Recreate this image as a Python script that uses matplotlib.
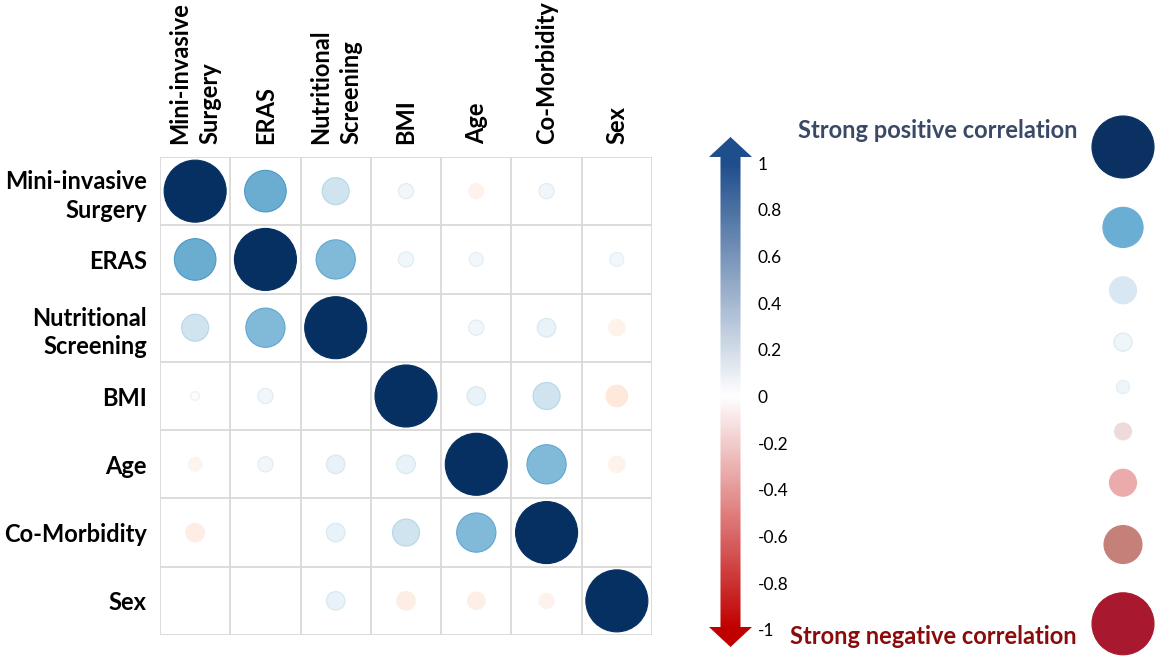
import matplotlib
matplotlib.use("Agg")
import matplotlib.pyplot as plt
import numpy as np
from matplotlib.colors import LinearSegmentedColormap
from matplotlib.patches import Polygon

plt.rcParams['font.family'] = ['Lato', 'DejaVu Sans']

# ==========
labels = ['Mini-invasive\nSurgery', 'ERAS', 'Nutritional\nScreening', 'BMI',
          'Age', 'Co-Morbidity', 'Sex']
# korelacni matice (radky = popisky vlevo)
corr = np.array([
    [1.00, 0.45, 0.19, 0.06, -0.06, 0.06, 0.00],
    [0.45, 1.00, 0.40, 0.06, 0.05, 0.00, 0.05],
    [0.19, 0.40, 1.00, 0.00, 0.06, 0.09, -0.07],
    [0.02, 0.06, 0.00, 1.00, 0.09, 0.19, -0.12],
    [-0.05, 0.06, 0.09, 0.09, 1.00, 0.40, -0.07],
    [-0.09, 0.00, 0.09, 0.19, 0.40, 1.00, 0.00],
    [0.00, 0.00, 0.09, -0.09, -0.08, -0.06, 1.00],
])
bar_ticks = [1, 0.8, 0.6, 0.4, 0.2, 0, -0.2, -0.4, -0.6, -0.8, -1]
bar_labels = ['1', '0.8', '0.6', '0.4', '0.2', '0', '-0.2', '-0.4', '-0.6', '-0.8', '-1']
legend_r = [1, 0.42, 0.19, 0.085, 0.045, -0.075, -0.19, -0.375, -1]
legend_colors = ['#0A3162', '#6BAED3', '#D8E7F1', '#EEF6FA', '#EEF6FA',
                 '#EFDADA', '#EBABAB', '#C6807A', '#A8182E']
# ==========

W, H = 1170, 659
def px_box(x0, y0, x1, y1):
    return [x0 / W, 1 - y1 / H, (x1 - x0) / W, (y1 - y0) / H]

cmap = LinearSegmentedColormap.from_list('corr', [
    '#67001F', '#B2182B', '#D6604D', '#F4A582', '#FDDBC7', '#FFFFFF',
    '#D1E5F0', '#92C5DE', '#4393C3', '#2166AC', '#053061'])
arrow_cmap = LinearSegmentedColormap.from_list('arrow', ['#C00000', '#FFFFFF', '#1F4E8C'])

def barva(r):
    return cmap((np.clip(r * 1.1, -1, 1) + 1) / 2)

def okraj(r):
    # kladne kruhy maji o neco tmavsi obrys, zaporne bez obrysu
    return barva(r + 0.07) if r > 0 else barva(r)

d_max = 62 * 0.72  # prumer kruhu pro |r| = 1 [pt]

fig = plt.figure(figsize=(W / 100, H / 100), dpi=100)

# --- matice ---
ax = fig.add_axes(px_box(160, 157, 652, 635))
n = len(labels)
ax.set_xlim(-0.5, n - 0.5)
ax.set_ylim(n - 0.5, -0.5)
for k in range(n + 1):
    ax.axvline(k - 0.5, color='#D9D9D9', lw=1.3, zorder=1)
    ax.axhline(k - 0.5, color='#D9D9D9', lw=1.3, zorder=1)
for s in ax.spines.values():
    s.set_visible(False)

yy, xx = np.nonzero(corr)
vals = corr[yy, xx]
ax.scatter(xx, yy, s=d_max ** 2 * np.abs(vals), c=[barva(v) for v in vals],
           edgecolors=[okraj(v) for v in vals], linewidths=0.8, zorder=2)

ax.set_yticks(range(n))
ax.set_yticklabels(labels, fontsize=17, fontweight='bold', ha='right')
for t in ax.get_yticklabels():
    t.set_multialignment('right')
    t.set_linespacing(1.3)
ax.xaxis.tick_top()
ax.set_xticks(range(n))
ax.set_xticklabels(labels, fontsize=17, fontweight='bold', rotation=90,
                   ha='center', va='bottom')
for t in ax.get_xticklabels():
    t.set_multialignment('left')
    t.set_linespacing(1.4)
ax.tick_params(length=0)
ax.tick_params(axis='y', pad=9.4)
ax.tick_params(axis='x', pad=9.5)

# --- sipka se skalou ---
v_top = (396.5 - 130) / 233.5
v_bot = (396.5 - 655) / 233.5
axc = fig.add_axes(px_box(709, 130, 752, 655))
axc.set_xlim(0, 1)
axc.patch.set_visible(False)
for s in axc.spines.values():
    s.set_visible(False)
hrot_t, base_t = (396.5 - 137) / 233.5, (396.5 - 157) / 233.5
base_b, hrot_b = (396.5 - 627) / 233.5, (396.5 - 647) / 233.5
sx0, sx1 = 0.267, 0.733
sipka = Polygon([(0.5, hrot_t), (1, base_t), (sx1, base_t), (sx1, base_b),
                 (1, base_b), (0.5, hrot_b), (0, base_b), (sx0, base_b),
                 (sx0, base_t), (0, base_t)], closed=True,
                transform=axc.transData, facecolor='none', edgecolor='none')
axc.add_patch(sipka)
grad = np.linspace(hrot_b, hrot_t, 300).reshape(-1, 1)
im = axc.imshow(grad, extent=[0, 1, hrot_b, hrot_t], origin='lower', aspect='auto',
                cmap=arrow_cmap, vmin=-1, vmax=1, interpolation='bilinear')
im.set_clip_path(sipka)
axc.set_ylim(v_bot, v_top)
axc.set_xticks([])
axc.yaxis.tick_right()
axc.set_yticks(bar_ticks)
axc.set_yticklabels(bar_labels, fontsize=12.5)
axc.tick_params(length=0, pad=4.3)

# --- legenda s kruhy ---
axl = fig.add_axes([0, 0, 1, 1])
axl.set_xlim(0, W)
axl.set_ylim(H, 0)
axl.axis('off')
prumery = 62 * np.sqrt(np.abs(legend_r))
ly = [147.0]
for i in range(1, len(prumery)):
    ly.append(ly[-1] + (prumery[i - 1] + prumery[i]) / 2 + 29.3)
lr = np.array(legend_r)
axl.scatter(np.full(len(ly), 1123), ly, s=d_max ** 2 * np.abs(lr), c=legend_colors,
            edgecolors=[okraj(v) if 0 < v < 0.1 else c
                        for v, c in zip(legend_r, legend_colors)],
            linewidths=0.8)
axl.text(1078, 131, 'Strong positive correlation', ha='right', va='center',
         fontsize=17, fontweight='bold', color='#3A4A66')
axl.text(1077, 637, 'Strong negative correlation', ha='right', va='center',
         fontsize=17, fontweight='bold', color='#8B0A0A')

fig.savefig('out.png', dpi=100)
